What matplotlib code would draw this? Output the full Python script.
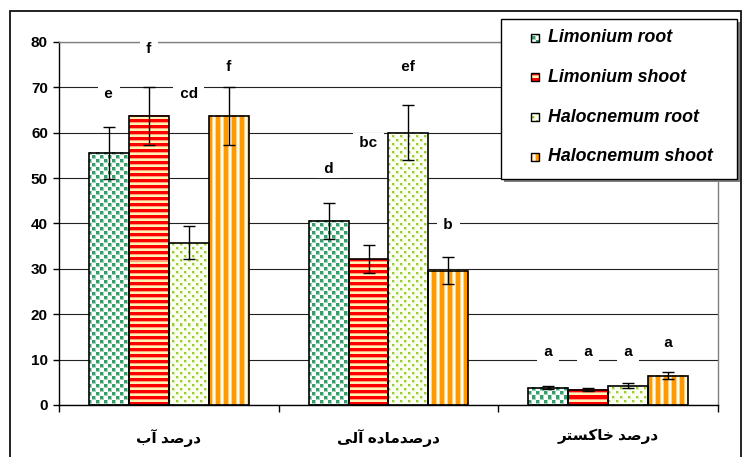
import numpy as np
import matplotlib
matplotlib.use('Agg')
import matplotlib.pyplot as plt
from matplotlib.patches import Rectangle

plt.rcParams['font.family'] = ['Liberation Sans', 'DejaVu Sans']
plt.rcParams['font.weight'] = 'bold'

# data: percent water, organic matter and ash
categories = ['درصد آب', 'درصدماده آلی', 'درصد خاکستر']
series_names = ['Limonium root', 'Limonium shoot', 'Halocnemum root', 'Halocnemum shoot']

limonium_root = [55.6, 40.6, 3.8]
limonium_root_err = [5.7, 4.0, 0.3]
limonium_shoot = [63.7, 32.1, 3.4]
limonium_shoot_err = [6.4, 3.1, 0.25]
halocnemum_root = [35.8, 60.0, 4.2]
halocnemum_root_err = [3.6, 6.1, 0.55]
halocnemum_shoot = [63.7, 29.6, 6.5]
halocnemum_shoot_err = [6.4, 3.0, 0.75]

limonium_root_letters = ['e', 'd', 'a']
limonium_shoot_letters = ['f', 'bc', 'a']
halocnemum_root_letters = ['cd', 'ef', 'a']
halocnemum_shoot_letters = ['f', 'b', 'a']

values = [limonium_root, limonium_shoot, halocnemum_root, halocnemum_shoot]
errors = [limonium_root_err, limonium_shoot_err, halocnemum_root_err, halocnemum_shoot_err]
letters = [limonium_root_letters, limonium_shoot_letters,
           halocnemum_root_letters, halocnemum_shoot_letters]
# height at which each significance letter sits
letter_y = [[68.5, 52.0, 11.6], [78.4, 57.8, 11.6],
            [68.5, 74.5, 11.6], [74.5, 39.6, 13.6]]

# arabic letter forms: isolated, final, initial, medial
FORMS = {
    '\u0627': ('\uFE8D', '\uFE8E', None, None),
    '\u0622': ('\uFE81', '\uFE82', None, None),
    '\u0628': ('\uFE8F', '\uFE90', '\uFE91', '\uFE92'),
    '\u062A': ('\uFE95', '\uFE96', '\uFE97', '\uFE98'),
    '\u062E': ('\uFEA5', '\uFEA6', '\uFEA7', '\uFEA8'),
    '\u062F': ('\uFEA9', '\uFEAA', None, None),
    '\u0631': ('\uFEAD', '\uFEAE', None, None),
    '\u0633': ('\uFEB1', '\uFEB2', '\uFEB3', '\uFEB4'),
    '\u0635': ('\uFEB9', '\uFEBA', '\uFEBB', '\uFEBC'),
    '\u0643': ('\uFED9', '\uFEDA', '\uFEDB', '\uFEDC'),
    '\u06A9': ('\uFED9', '\uFEDA', '\uFEDB', '\uFEDC'),
    '\u0644': ('\uFEDD', '\uFEDE', '\uFEDF', '\uFEE0'),
    '\u0645': ('\uFEE1', '\uFEE2', '\uFEE3', '\uFEE4'),
    '\u0647': ('\uFEE9', '\uFEEA', '\uFEEB', '\uFEEC'),
    '\u064A': ('\uFEEF', '\uFEF0', '\uFEF3', '\uFEF4'),
    '\u06CC': ('\uFEEF', '\uFEF0', '\uFEF3', '\uFEF4'),
}


def shape(text):
    # join the letters and put them in visual (left to right) order
    out = []
    for i, ch in enumerate(text):
        if ch not in FORMS:
            out.append(ch)
            continue
        prev = text[i - 1] if i > 0 else ''
        nxt = text[i + 1] if i + 1 < len(text) else ''
        join_prev = prev in FORMS and FORMS[prev][2] is not None
        join_next = FORMS[ch][2] is not None and nxt in FORMS
        iso, fin, ini, med = FORMS[ch]
        if join_prev and join_next:
            out.append(med)
        elif join_prev:
            out.append(fin)
        elif join_next:
            out.append(ini)
        else:
            out.append(iso)
    return ''.join(reversed(out))


def rgb(h):
    h = h.lstrip('#')
    return np.array([int(h[k:k + 2], 16) / 255. for k in (0, 2, 4)])


def blend(a, b, t):
    return a * (1 - t) + b * t


# fill patterns, built on absolute pixel coordinates
def confetti(X, Y):
    img = np.ones(np.broadcast(X, Y).shape + (3,))
    fg = rgb('#3a9b6b')
    for ox, oy in [(0, 0), (4, 4)]:
        xx = (X + ox) % 8
        yy = (Y + oy) % 8
        core = (xx < 3) & (yy < 3)
        edge = (xx < 4) & (yy < 4) & ~core
        img[edge] = blend(np.ones(3), fg, 0.45)
        img[core] = fg
    return img


def hstripes(X, Y):
    img = np.ones(np.broadcast(X, Y).shape + (3,))
    r = (Y + 0 * X) % 6
    img[:] = rgb('#fff2b5')
    img[r < 3] = rgb('#ff0000')
    img[r == 3] = rgb('#ff9f7a')
    return img


def dots(X, Y):
    img = np.ones(np.broadcast(X, Y).shape + (3,))
    img[:] = rgb('#fdfff5')
    fg = rgb('#9acd32')
    for ox, oy in [(0, 0), (4, 4)]:
        xx = (X + ox) % 8
        yy = (Y + oy) % 8
        core = (xx < 2) & (yy < 2)
        edge = (xx < 3) & (yy < 3) & ~core
        img[edge] = blend(np.ones(3), fg, 0.35)
        img[core] = fg
    return img


def vstripes(X, Y):
    img = np.ones(np.broadcast(X, Y).shape + (3,))
    c = (X + 0 * Y) % 8
    img[:] = rgb('#fffbea')
    img[c < 4] = rgb('#ff9900')
    img[(c == 4) | (c == 7)] = rgb('#ffd48f')
    return img


patterns = [confetti, hstripes, dots, vstripes]

W, H = 744, 457
fig = plt.figure(figsize=(W / 100, H / 100), dpi=100)
ax = fig.add_axes([59 / W, 1 - 405 / H, (718 - 59) / W, (405 - 42) / H])
ax.set_xlim(-0.5, 2.5)
ax.set_ylim(0, 80)

bw = 40 / 220
x = np.arange(len(categories))

for i in range(len(series_names)):
    xs = x + (i - 1.5) * bw
    for j in range(len(categories)):
        x0 = xs[j] - bw / 2
        p0 = ax.transData.transform((x0, 0))
        p1 = ax.transData.transform((x0 + bw, values[i][j]))
        cols = np.arange(int(round(p0[0])), int(round(p1[0])))
        rows = np.arange(int(round(H - p1[1])), int(round(H - p0[1])))
        img = patterns[i](cols[None, :], rows[:, None])
        ax.imshow(img, extent=(x0, x0 + bw, 0, values[i][j]), origin='upper',
                  interpolation='nearest', aspect='auto', zorder=2)
    ax.bar(xs, values[i], bw, facecolor='none', edgecolor='black',
           linewidth=1.2, zorder=3)
    ax.errorbar(xs, values[i], yerr=errors[i], fmt='none', ecolor='black',
                elinewidth=1, capsize=4.3, capthick=1, zorder=4)
    for j in range(len(categories)):
        ax.text(xs[j], letter_y[i][j], ' ' + letters[i][j] + ' ', ha='center',
                va='center', fontsize=11, fontweight='bold', zorder=5,
                bbox=dict(boxstyle='square,pad=0.15', fc='white', ec='none'))

ax.set_xlim(-0.5, 2.5)
ax.set_ylim(0, 80)

ax.set_yticks(np.arange(0, 81, 10))
ax.yaxis.grid(True, color='#222222', linewidth=0.8)
ax.set_axisbelow(True)
ax.tick_params(axis='y', direction='out', length=4, width=1, pad=4, labelsize=11)

ax.set_xticks([-0.5, 0.5, 1.5, 2.5])
ax.set_xticklabels([])
ax.set_xticks(x, minor=True)
ax.set_xticklabels([shape(c) for c in categories], minor=True, fontsize=11,
                   fontweight='bold')
ax.tick_params(axis='x', which='major', direction='out', length=5, width=1)
ax.tick_params(axis='x', which='minor', length=0, pad=17)

for side in ['left', 'bottom']:
    ax.spines[side].set_color('black')
    ax.spines[side].set_linewidth(1.0)
for side in ['top', 'right']:
    ax.spines[side].set_color('#808080')
    ax.spines[side].set_linewidth(1.0)


def px_rect(x0, y0, x1, y1, **kw):
    # rectangle given in pixels from the top-left corner
    return Rectangle((x0 / W, 1 - y1 / H), (x1 - x0) / W, (y1 - y0) / H,
                     transform=fig.transFigure, **kw)


# outer frame
fig.add_artist(px_rect(9.5, 10.5, 740.5, 470, fill=False, ec='#111111', lw=1.3,
                       zorder=1))

# legend box with shadow
fig.add_artist(px_rect(504, 22, 740, 182, fc='#7f7f7f', ec='none', zorder=6))
fig.add_artist(px_rect(501, 19, 737, 179, fc='white', ec='black', lw=1.0, zorder=7))
entry_y = [38, 77, 117, 157]
for i, name in enumerate(series_names):
    ky = entry_y[i] - 4
    kcols = np.arange(531, 539)
    krows = np.arange(ky, ky + 8)
    fig.figimage(patterns[i](kcols[None, :], krows[:, None]), xo=531,
                 yo=H - (ky + 8), origin='upper', zorder=8)
    fig.add_artist(px_rect(531, ky, 539, ky + 8, fill=False, ec='black', lw=1.0,
                           zorder=9))
    fig.text(548 / W, 1 - entry_y[i] / H, name, fontsize=12.8, fontweight='bold',
             fontstyle='italic', va='center', ha='left', zorder=9)

fig.savefig('out.png', dpi=100)
